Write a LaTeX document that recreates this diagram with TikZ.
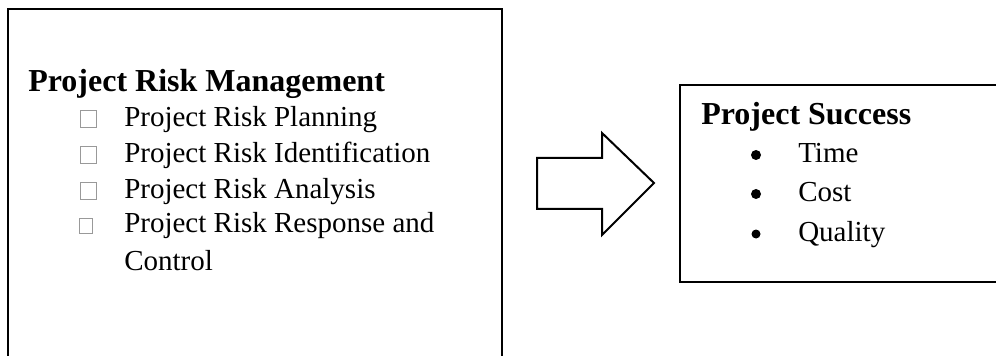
\documentclass[tikz,border=0pt]{standalone}
\usepackage{fontspec}
\setmainfont{Liberation Serif}
\begin{document}
\begin{tikzpicture}[x=0.75pt,y=-0.75pt,
  frame/.style={draw=black, line width=1.5pt},
  head/.style={anchor=base west, inner sep=0pt, font=\fontsize{24pt}{28pt}\selectfont\bfseries},
  item/.style={anchor=base west, inner sep=0pt, font=\fontsize{21.75pt}{26pt}\selectfont},
  sqbullet/.style={draw=black!40, line width=0.6pt},
  dotbullet/.style={fill=black, draw=none}]
\useasboundingbox (0,0) rectangle (996,356);
% left box (open at bottom)
\draw[frame] (8,358) -- (8,9.5) -- (502,9.5) -- (502,358);
% right box (open at right)
\draw[frame] (998,85) -- (680,85) -- (680,282) -- (998,282);
% block arrow
\draw[line width=1.5pt, line join=miter] (537,158) -- (602,158) -- (602,133) -- (654,183) -- (602,235) -- (602,209) -- (537,209) -- cycle;
% left texts
\node[head] (h1) at (28,92) {Project Risk Management};
\node[item] (i1) at (124,127) {Project Risk Planning};
\node[item] (i2) at (124,163) {Project Risk Identification};
\node[item] (i3) at (124,199) {Project Risk Analysis};
\node[item] (i4) at (124,233) {Project Risk Response and};
\node[item] (i5) at (124,270) {Control};
\draw[sqbullet] (80,110) rectangle (96,127);
\draw[sqbullet] (80,146) rectangle (96,163);
\draw[sqbullet] (80,182) rectangle (96,199);
\draw[sqbullet] (79,218) rectangle (92,233);
% right texts
\node[head] (h2) at (701,125) {Project Success};
\node[item] (r1) at (798,163) {Time};
\node[item] (r2) at (798,202) {Cost};
\node[item] (r3) at (798,241) {Quality};
\fill[dotbullet] (756,155) circle (5);
\fill[dotbullet] (756,194) circle (5);
\fill[dotbullet] (756,234) circle (4.5);
\end{tikzpicture}
\end{document}
